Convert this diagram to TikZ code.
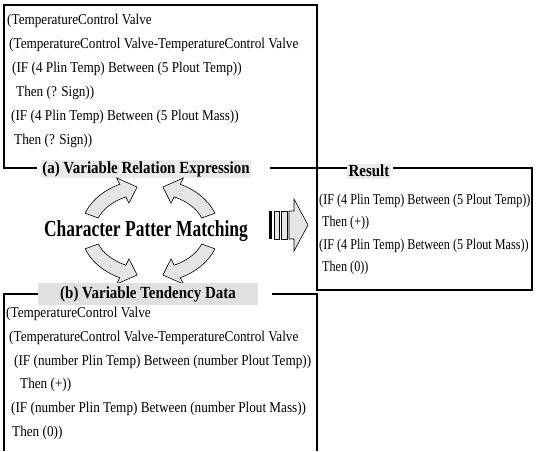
\documentclass[tikz,border=0pt]{standalone}
\usepackage{fontspec}
\setmainfont{Liberation Serif}[FakeStretch=0.88]
\newfontfamily\narrowserif{Liberation Serif}[FakeStretch=0.81]
\newfontfamily\headserif{Liberation Serif}[FakeStretch=0.76]

\tikzset{
  rule/.style={line width=1.3pt},
  code/.style={anchor=west, inner sep=0pt, font=\fontsize{15}{17}\selectfont},
  rescode/.style={code, font=\narrowserif\fontsize{15}{17}\selectfont},
  tag/.style={font=\fontsize{17}{19}\selectfont\bfseries, fill=black!8, inner sep=1.5pt},
  cyc/.style={draw=black, line width=0.6pt, fill=black!10},
}

\begin{document}
\begin{tikzpicture}[x=1pt,y=-1pt]
\useasboundingbox (0,0) rectangle (537,451);

% Expression box
\draw[rule] (37,168) -- (4,168) -- (4,5) -- (317,5) -- (317,168);
\draw[rule] (270,168) -- (347,168);

\node[code] (a1) at (7,21) {(TemperatureControl Valve};
\node[code] (a2) at (9,45) {(TemperatureControl Valve-TemperatureControl Valve};
\node[code] (a3) at (12,69) {(IF (4 Plin Temp) Between (5 Plout Temp))};
\node[code] (a4) at (16,93) {Then (? Sign))};
\node[code] (a5) at (11,117) {(IF (4 Plin Temp) Between (5 Plout Mass))};
\node[code] (a6) at (14,141) {Then (? Sign))};

\node[tag] (ta) at (146,169) {(a) Variable Relation Expression};

% Result box
\draw[rule] (393,168) -- (532,168) -- (532,290) -- (317,290) -- (317,168);

\node[tag] (tr) at (369,171) {Result};

\node[rescode] (r1) at (319,201) {(IF (4 Plin Temp) Between (5 Plout Temp))};
\node[rescode] (r2) at (322,223) {Then (+))};
\node[rescode] (r3) at (319,246) {(IF (4 Plin Temp) Between (5 Plout Mass))};
\node[rescode] (r4) at (322,268) {Then (0))};

% Matching
\node[font=\headserif\fontsize{23}{26}\selectfont\bfseries] (cpm) at (146,231) {Character Patter Matching};

\filldraw[cyc] plot[domain=200:244] ({150+69*cos(\x)},{231+52*sin(\x)})
  -- ({150+76*cos(244)},{231+59*sin(244)}) -- ({150+62*cos(258)},{231+45*sin(258)})
  -- ({150+48*cos(244)},{231+31*sin(244)}) -- plot[domain=244:200] ({150+55*cos(\x)},{231+38*sin(\x)}) -- cycle;
\filldraw[cyc] plot[domain=340:296] ({150+69*cos(\x)},{231+52*sin(\x)})
  -- ({150+76*cos(296)},{231+59*sin(296)}) -- ({150+62*cos(282)},{231+45*sin(282)})
  -- ({150+48*cos(296)},{231+31*sin(296)}) -- plot[domain=296:340] ({150+55*cos(\x)},{231+38*sin(\x)}) -- cycle;
\filldraw[cyc] plot[domain=160:116] ({150+69*cos(\x)},{231+52*sin(\x)})
  -- ({150+76*cos(116)},{231+59*sin(116)}) -- ({150+62*cos(102)},{231+45*sin(102)})
  -- ({150+48*cos(116)},{231+31*sin(116)}) -- plot[domain=116:160] ({150+55*cos(\x)},{231+38*sin(\x)}) -- cycle;
\filldraw[cyc] plot[domain=20:64] ({150+69*cos(\x)},{231+52*sin(\x)})
  -- ({150+76*cos(64)},{231+59*sin(64)}) -- ({150+62*cos(78)},{231+45*sin(78)})
  -- ({150+48*cos(64)},{231+31*sin(64)}) -- plot[domain=64:20] ({150+55*cos(\x)},{231+38*sin(\x)}) -- cycle;

% Block arrow
\fill (269,211) rectangle (272,239);
\draw[line width=0.8pt, fill=black!10] (274,211) rectangle (279,239);
\draw[line width=0.8pt, fill=black!10] (281,211) rectangle (287,239);
\filldraw[cyc] (289,211) -- (294,211) -- (294,199) -- (308,225) -- (294,251) -- (294,239) -- (289,239) -- cycle;

% Tendency box
\draw[rule] (42,294) -- (4,294) -- (4,451);
\draw[rule] (272,294) -- (317,294) -- (317,451);

\node[tag, fill=black!12, minimum width=220pt, minimum height=22pt] (tb) at (148,294) {(b) Variable Tendency Data};

\node[code] (b1) at (6,314) {(TemperatureControl Valve};
\node[code] (b2) at (9,338) {(TemperatureControl Valve-TemperatureControl Valve};
\node[code] (b3) at (14,362) {(IF (number Plin Temp) Between (number Plout Temp))};
\node[code] (b4) at (20,385) {Then (+))};
\node[code] (b5) at (11,409) {(IF (number Plin Temp) Between (number Plout Mass))};
\node[code] (b6) at (12,433) {Then (0))};

\end{tikzpicture}
\end{document}
